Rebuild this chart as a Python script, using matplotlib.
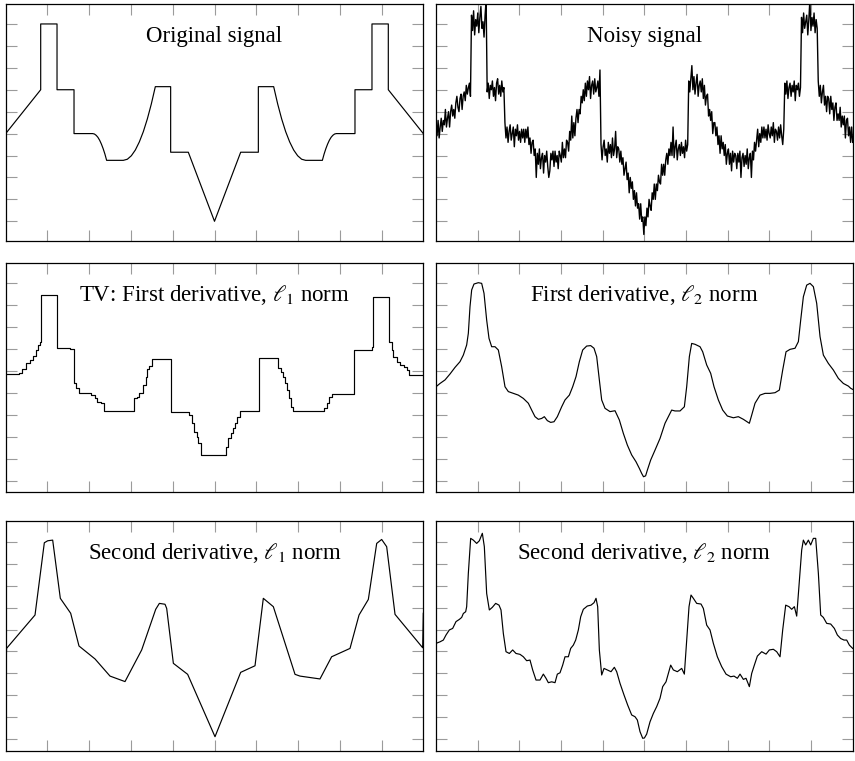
import numpy as np
import matplotlib.pyplot as plt

plt.rcParams['font.family'] = ['Liberation Serif', 'DejaVu Serif']
plt.rcParams['mathtext.fontset'] = 'stix'

# original piecewise signal (x in [0, 1])
orig_x = [0, 0.0838, 0.0838, 0.1229, 0.1229, 0.1636, 0.1636, 0.2083, 0.2125, 0.2167,
          0.2208, 0.2250, 0.2292, 0.2334, 0.2375, 0.2417, 0.2817, 0.2913, 0.3009, 0.3104,
          0.3200, 0.3296, 0.3392, 0.3487, 0.3583, 0.3950, 0.3950, 0.4373, 0.5, 0.5627,
          0.6050, 0.6050, 0.6417, 0.6513, 0.6608, 0.6704, 0.6800, 0.6896, 0.6991, 0.7087,
          0.7183, 0.7583, 0.7625, 0.7666, 0.7708, 0.7750, 0.7792, 0.7833, 0.7875, 0.7917,
          0.8364, 0.8364, 0.8771, 0.8771, 0.9162, 0.9162, 1.0]
orig_y = [4.0, 6.0, 9.0, 9.0, 6.0, 6.0, 4.0, 4.0, 3.98, 3.92,
          3.83, 3.695, 3.52, 3.31, 3.07, 2.78, 2.78, 2.83, 2.99, 3.25,
          3.62, 4.09, 4.67, 5.35, 6.14, 6.14, 3.15, 3.15, 0.0, 3.15,
          3.15, 6.14, 6.14, 5.35, 4.67, 4.09, 3.62, 3.25, 2.99, 2.83,
          2.78, 2.78, 3.07, 3.31, 3.52, 3.695, 3.83, 3.92, 3.98, 4.0,
          4.0, 6.0, 6.0, 9.0, 9.0, 6.0, 4.0]

# noisy measurements, uniformly sampled
noisy_y = [
    4.3, 3.9, 4.6, 3.8, 4.3, 4.7, 4.1, 4.6, 4.4, 5.1, 4.3, 4.7, 5.0, 4.3, 5.0, 5.3, 4.8,
    5.1, 4.7, 5.4, 5.7, 5.2, 5.0, 5.6, 5.8, 5.1, 5.7, 5.9, 5.5, 6.2, 5.8, 6.1, 6.3, 5.7,
    9.4, 8.7, 9.6, 8.5, 9.2, 8.9, 9.5, 8.6, 9.3, 9.8, 8.8, 9.1, 8.4, 9.4, 10.1,
    5.9, 6.3, 5.6, 6.2, 6.0, 6.4, 5.7, 6.1, 5.5, 6.3, 6.5, 5.8, 6.2, 5.7, 6.4, 5.9, 6.1,
    4.5, 3.8, 4.3, 3.6, 4.1, 4.4, 3.7, 4.0, 4.3, 3.4, 4.2, 3.9, 4.4, 3.7, 4.1, 3.6, 4.2, 3.8,
    4.2, 3.6, 4.2, 3.8, 4.3, 3.5, 3.8, 3.1, 3.6, 3.7, 3.0, 3.3, 2.0,
    3.1, 2.6, 3.3, 2.4, 2.9, 3.1, 2.2, 3.0, 2.7, 3.2, 2.5, 2.0, 2.3, 3.1, 2.8, 3.2,
    2.5, 3.2, 2.7, 3.0, 2.4, 3.2, 3.0, 2.7, 3.6, 2.9, 3.3, 2.9, 3.7, 3.6, 3.2, 4.1, 3.7,
    4.8, 3.8, 4.5, 3.9, 4.7, 5.1, 4.5, 5.1, 4.9, 5.7, 5.4, 6.0, 5.5,
    6.3, 5.7, 6.4, 6.0, 6.6, 5.6, 6.2, 6.4, 5.8, 6.5, 5.9, 6.1, 6.4, 5.7, 6.9,
    3.5, 2.8, 3.4, 3.7, 3.0, 3.3, 2.7, 3.6, 3.1, 3.5, 2.9, 3.8, 3.0, 3.3, 4.1, 2.9, 3.4,
    3.3, 2.7, 3.2, 2.6, 2.9, 2.1, 2.4, 2.7, 1.9, 2.2, 1.3, 2.0, 1.5, 1.8, 1.0, 1.4, 0.7,
    1.3, 0.6, 0.8, 0.1, 0.8, 0.0, 0.2, -0.6,
    0.2, -0.2, 0.6, 0.2, 1.0, 0.7, 0.5, 1.3, 1.0, 1.7, 1.0, 1.7, 1.4, 2.1, 1.8, 1.7, 2.6,
    2.1, 2.6, 2.1, 2.8, 3.1, 2.6, 3.3, 3.0,
    3.6, 3.0, 4.3, 2.9, 3.4, 3.7, 2.8, 3.3, 3.5, 3.0, 3.6, 3.1, 3.4, 2.9, 3.7, 3.2, 3.5,
    6.4, 5.9, 6.5, 7.1, 6.0, 6.6, 5.8, 6.3, 6.7, 5.7, 6.2, 6.4, 5.9, 6.5, 5.6,
    6.2, 5.3, 5.7, 5.8, 4.8, 5.1, 4.6, 5.0, 4.0, 4.5, 4.5, 3.9, 4.3, 3.5, 3.9, 3.1, 3.9,
    3.3, 3.6, 3.0, 3.5, 2.6, 3.1, 3.3, 2.6, 3.1, 2.3, 3.2, 2.7, 3.1,
    3.0, 2.4, 3.1, 2.7, 3.2, 2.0, 2.9, 3.1, 2.5, 3.0, 2.6, 3.3, 2.4, 2.9, 3.1, 2.0,
    3.2, 2.8, 3.6, 3.2, 3.7, 4.2, 3.4, 4.0, 3.6, 4.3, 3.8, 4.3, 3.8,
    4.2, 3.7, 4.4, 4.0, 3.8, 4.3, 3.9, 4.5, 3.6, 4.2, 4.1, 3.7, 4.3, 3.8, 4.4, 3.9, 3.5, 4.2,
    6.3, 5.8, 6.4, 5.6, 6.1, 6.3, 5.7, 6.2, 5.9, 6.4, 5.5, 6.2, 6.0, 6.3, 5.7, 6.1,
    9.3, 8.6, 9.5, 8.8, 9.1, 9.4, 8.5, 9.2, 10.1, 8.7, 9.3, 8.9, 9.5, 8.6, 9.2, 8.8,
    6.4, 5.7, 6.2, 5.4, 5.9, 6.2, 5.3, 5.7, 5.0, 5.7, 5.6, 4.9, 5.7, 5.1, 5.4, 4.6, 5.2,
    5.4, 4.6, 4.9, 4.6, 5.2, 4.3, 4.8, 4.4, 4.8, 3.8, 4.6, 4.7, 3.9, 4.3, 3.6, 4.3, 3.6]

# TV denoising: piecewise constant levels starting at tv_x[i]
tv_x = [0, 0.0327, 0.0382, 0.0486, 0.0582, 0.0662, 0.0726, 0.0781, 0.0821, 0.0837,
        0.1228, 0.1540, 0.1636, 0.1684, 0.1747, 0.2035, 0.2138, 0.2178, 0.2274, 0.2354,
        0.3072, 0.3136, 0.3200, 0.3280, 0.3352, 0.3392, 0.3431, 0.3495, 0.3952, 0.4397,
        0.4453, 0.4509, 0.4573, 0.4613, 0.4677, 0.5275, 0.5331, 0.5387, 0.5435, 0.5491,
        0.5547, 0.5611, 0.6074, 0.6513, 0.6585, 0.6649, 0.6688, 0.6744, 0.6792, 0.6840,
        0.6888, 0.7622, 0.7686, 0.7742, 0.7806, 0.8340, 0.8763, 0.8787, 0.9178, 0.9242,
        0.9282, 0.9362, 0.9442, 0.9538, 0.9618, 0.9658, 1.0]
tv_y = [4.83, 4.90, 5.06, 5.36, 5.48, 5.67, 5.94, 6.17, 6.30, 8.42,
        6.05, 5.99, 4.42, 4.20, 3.97, 3.91, 3.74, 3.59, 3.52, 3.17,
        3.74, 3.82, 3.97, 4.35, 4.73, 5.06, 5.21, 5.53, 3.14, 2.98,
        2.60, 2.23, 2.00, 1.70, 1.16, 1.55, 1.92, 2.15, 2.38, 2.60,
        2.90, 3.18, 5.56, 5.10, 4.95, 4.73, 4.42, 4.12, 3.74, 3.36,
        3.17, 3.29, 3.55, 3.82, 3.94, 5.94, 6.09, 8.33, 6.32, 5.94,
        5.64, 5.41, 5.26, 5.15, 5.03, 4.80, 4.80]

# first derivative, l2 penalty
fd2_x = [0, 0.0096, 0.0216, 0.0336, 0.0456, 0.0576, 0.0656, 0.0736, 0.0776, 0.0816,
         0.0856, 0.0912, 0.1016, 0.1096, 0.1152, 0.1216, 0.1272, 0.1336, 0.1416, 0.1496,
         0.1576, 0.1656, 0.1736, 0.1856, 0.1976, 0.2096, 0.2216, 0.2296, 0.2376, 0.2456,
         0.2536, 0.2600, 0.2672, 0.2752, 0.2832, 0.2912, 0.3016, 0.3096, 0.3200, 0.3280,
         0.3360, 0.3440, 0.3520, 0.3616, 0.3712, 0.3792, 0.3856, 0.3920, 0.3976, 0.4056,
         0.4176, 0.4296, 0.4400, 0.4496, 0.4592, 0.4696, 0.4800, 0.4880, 0.4936, 0.4980,
         0.5030, 0.5072, 0.5152, 0.5256, 0.5376, 0.5496, 0.5576, 0.5656, 0.5736, 0.5856,
         0.5960, 0.6016, 0.6080, 0.6136, 0.6216, 0.6336, 0.6400, 0.6496, 0.6592, 0.6672,
         0.6776, 0.6880, 0.6992, 0.7136, 0.7256, 0.7376, 0.7520, 0.7576, 0.7656, 0.7776,
         0.7896, 0.8016, 0.8136, 0.8240, 0.8320, 0.8400, 0.8496, 0.8616, 0.8696, 0.8752,
         0.8816, 0.8896, 0.8976, 0.9056, 0.9136, 0.9216, 0.9296, 0.9416, 0.9536, 0.9656,
         0.9776, 0.9896, 0.9952, 1.0]
fd2_y = [4.27, 4.42, 4.58, 4.85, 5.15, 5.41, 5.71, 6.17, 6.70, 7.91,
         8.67, 8.94, 9.00, 8.97, 8.52, 7.30, 6.47, 6.09, 6.09, 5.94,
         5.18, 4.27, 4.05, 3.97, 3.89, 3.74, 3.52, 3.21, 2.91, 2.79,
         2.83, 2.91, 2.73, 2.65, 2.68, 2.91, 3.36, 3.67, 3.89, 4.27,
         4.73, 5.41, 5.94, 6.12, 6.14, 6.02, 5.64, 4.58, 3.67, 3.29,
         3.14, 3.18, 2.76, 2.15, 1.62, 1.17, 0.86, 0.56, 0.33, 0.18,
         0.22, 0.48, 0.94, 1.39, 1.92, 2.61, 2.91, 3.21, 3.17, 3.17,
         3.36, 4.27, 5.64, 6.24, 6.20, 6.09, 5.86, 5.26, 4.88, 4.27,
         3.67, 3.21, 2.94, 2.86, 2.91, 2.79, 2.61, 2.98, 3.52, 3.89,
         3.97, 3.97, 4.00, 4.12, 5.03, 5.86, 5.97, 6.02, 6.32, 7.30,
         8.36, 8.89, 8.97, 8.82, 8.06, 6.55, 5.71, 5.33, 5.03, 4.65,
         4.42, 4.30, 4.20, 4.15]

# second derivative, l1 penalty (piecewise linear)
sd1_x = [0, 0.002, 0.0702, 0.0925, 0.1006, 0.1125, 0.1308, 0.1556, 0.1755, 0.2139,
         0.2498, 0.2857, 0.3256, 0.3592, 0.3680, 0.3815, 0.3855, 0.4015, 0.4357, 0.5012,
         0.5627, 0.5970, 0.6169, 0.6409, 0.6928, 0.7047, 0.7526, 0.7805, 0.8245, 0.8461,
         0.8684, 0.8884, 0.9003, 0.9123, 0.9323, 0.9985, 1.0]
sd1_y = [2.35, 4.14, 5.66, 8.95, 9.04, 9.07, 6.42, 5.74, 4.25, 3.66,
         2.88, 2.63, 4.07, 5.92, 6.19, 6.15, 5.96, 3.46, 2.96, 0.12,
         3.05, 3.35, 6.42, 6.04, 2.96, 2.88, 2.75, 3.76, 4.14, 5.66,
         6.37, 8.92, 9.10, 8.77, 5.69, 4.17, 5.74]

# second derivative, l2 penalty
sd2_x = [0, 0.0096, 0.0176, 0.0240, 0.0320, 0.0400, 0.0480, 0.0560, 0.0616, 0.0656,
         0.0712, 0.0736, 0.0776, 0.0832, 0.0896, 0.0976, 0.1040, 0.1112, 0.1160, 0.1216,
         0.1280, 0.1352, 0.1432, 0.1512, 0.1560, 0.1616, 0.1680, 0.1760, 0.1840, 0.1920,
         0.2016, 0.2096, 0.2176, 0.2256, 0.2320, 0.2400, 0.2496, 0.2576, 0.2640, 0.2696,
         0.2776, 0.2856, 0.2912, 0.2976, 0.3040, 0.3096, 0.3176, 0.3232, 0.3296, 0.3352,
         0.3416, 0.3472, 0.3536, 0.3632, 0.3720, 0.3792, 0.3840, 0.3880, 0.3920, 0.3976,
         0.4032, 0.4112, 0.4200, 0.4280, 0.4336, 0.4416, 0.4512, 0.4600, 0.4696, 0.4776,
         0.4832, 0.4896, 0.4960, 0.5000, 0.5056, 0.5136, 0.5216, 0.5296, 0.5376, 0.5440,
         0.5520, 0.5576, 0.5632, 0.5696, 0.5792, 0.5896, 0.5960, 0.6016, 0.6072, 0.6120,
         0.6176, 0.6256, 0.6360, 0.6416, 0.6496, 0.6576, 0.6656, 0.6752, 0.6856, 0.6960,
         0.7072, 0.7152, 0.7232, 0.7296, 0.7376, 0.7440, 0.7520, 0.7576, 0.7640, 0.7712,
         0.7816, 0.7920, 0.8000, 0.8096, 0.8176, 0.8256, 0.8320, 0.8392, 0.8472, 0.8536,
         0.8600, 0.8656, 0.8720, 0.8776, 0.8816, 0.8872, 0.8936, 0.8992, 0.9056, 0.9112,
         0.9176, 0.9232, 0.9296, 0.9376, 0.9472, 0.9560, 0.9632, 0.9712, 0.9792, 0.9856,
         0.9920, 1.0]
sd2_y = [4.37, 4.44, 4.52, 4.75, 4.98, 5.05, 5.36, 5.46, 5.55, 5.73,
         5.81, 6.04, 7.56, 9.15, 9.07, 8.92, 9.04, 9.38, 8.77, 6.64,
         5.89, 6.01, 6.19, 6.11, 5.89, 4.82, 3.99, 3.91, 4.07, 3.91,
         3.87, 3.76, 3.58, 3.61, 3.16, 2.70, 2.70, 2.97, 2.78, 2.58,
         2.62, 2.58, 2.97, 3.03, 3.38, 3.76, 3.76, 4.14, 4.29, 4.52,
         4.98, 5.58, 5.92, 6.07, 6.11, 6.22, 6.42, 6.04, 4.07, 2.93,
         3.23, 3.16, 3.08, 3.28, 3.08, 2.55, 2.02, 1.56, 1.11, 1.03,
         0.88, 0.35, 0.05, 0.06, 0.24, 0.80, 1.18, 1.49, 1.87, 2.40,
         2.62, 3.00, 3.38, 3.16, 3.08, 3.23, 2.97, 4.52, 6.04, 6.57,
         6.42, 6.19, 6.16, 5.96, 5.20, 4.98, 4.37, 3.76, 3.31, 2.97,
         2.85, 2.88, 2.78, 2.97, 2.73, 2.78, 2.40, 3.00, 3.38, 3.79,
         3.99, 3.88, 4.07, 4.10, 3.99, 3.76, 4.98, 6.11, 6.04, 5.92,
         6.04, 5.61, 7.25, 8.62, 9.07, 8.85, 9.07, 8.85, 9.15, 9.15,
         7.56, 5.66, 5.55, 5.28, 5.25, 5.05, 4.75, 4.59, 4.52, 4.52,
         4.29, 4.14]

titles = ["Original signal", "Noisy signal",
          r"TV: First derivative, $\ell_1$ norm", r"First derivative, $\ell_2$ norm",
          r"Second derivative, $\ell_1$ norm", r"Second derivative, $\ell_2$ norm"]

fig = plt.figure(figsize=(8.55, 7.61), dpi=100)
W, H = 855.0, 761.0

# panel frames in pixels: columns (left, right), rows (top, bottom)
cols = [(5.7, 423.3), (436.0, 852.7)]
rows = [(4.0, 240.7), (263.0, 491.7), (521.0, 751.0)]
ylims = [(-0.885, 9.91), (-0.5, 9.895), (-0.53, 9.94)]

axes = []
for r, (top, bot) in enumerate(rows):
    for c, (left, right) in enumerate(cols):
        ax = fig.add_axes([left / W, (H - bot) / H, (right - left) / W, (bot - top) / H])
        ax.set_xlim(0, 1)
        ax.set_ylim(*ylims[r])
        ax.set_xticks(np.arange(1, 10) / 10)
        ax.set_yticks(np.arange(0, 10))
        ax.tick_params(direction='in', length=8, width=0.8, color='#9b9b9b',
                       top=True, right=True, labelbottom=False, labelleft=False)
        for s in ax.spines.values():
            s.set_linewidth(0.9)
        ax.text(0.5, 1 - 38.0 / (bot - top), titles[len(axes)], transform=ax.transAxes,
                ha='center', va='baseline', fontsize=16.5)
        axes.append(ax)

lw = 0.85
axes[0].plot(orig_x, orig_y, color='black', lw=lw)
axes[1].plot(np.linspace(0, 1, len(noisy_y)), noisy_y, color='black', lw=1.0)
axes[2].step(tv_x, tv_y, where='post', color='black', lw=lw)
axes[3].plot(fd2_x, fd2_y, color='black', lw=lw)
axes[4].plot(sd1_x, sd1_y, color='black', lw=lw)
axes[5].plot(sd2_x, sd2_y, color='black', lw=lw)

fig.savefig('out.png', dpi=100)
